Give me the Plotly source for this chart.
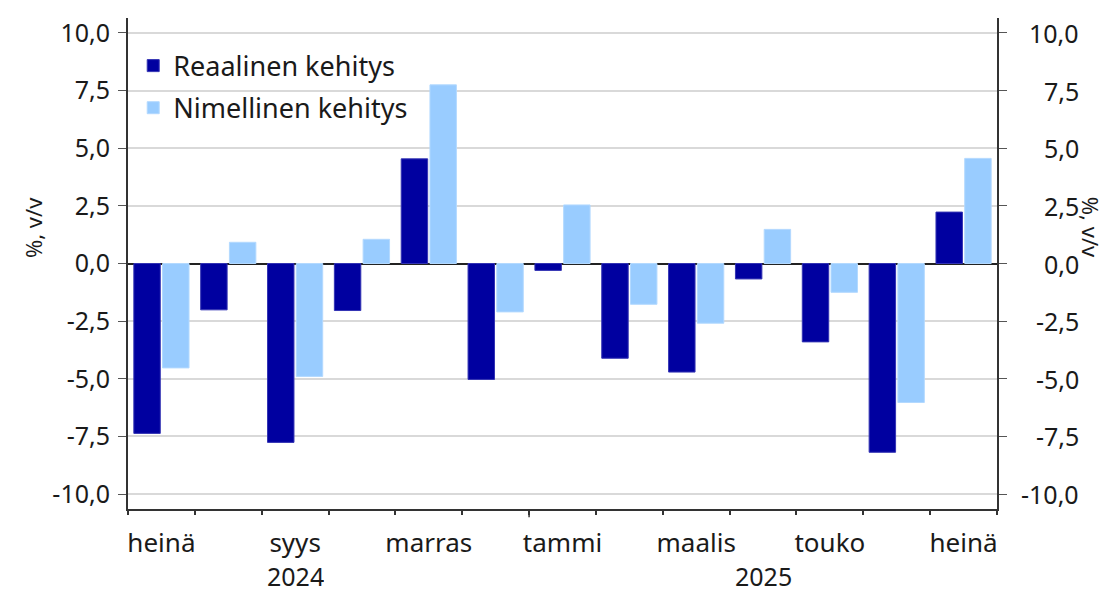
import plotly.graph_objects as go

months = ["heinä", "elo", "syys", "loka", "marras", "joulu", "tammi",
          "helmi", "maalis", "huhti", "touko", "kesä", "heinä"]
month_labels_shown = ["heinä", "", "syys", "", "marras", "", "tammi",
                      "", "maalis", "", "touko", "", "heinä"]
years = ["2024", "2025"]
year_label_index = [2, 9]
year_boundary = 5.5

real = [-7.37, -2.01, -7.76, -2.04, 4.54, -5.03, -0.30,
        -4.11, -4.71, -0.67, -3.40, -8.19, 2.23]
nominal = [-4.53, 0.92, -4.90, 1.05, 7.75, -2.10, 2.54,
           -1.77, -2.59, 1.48, -1.25, -6.03, 4.56]

series_names = ["Reaalinen kehitys", "Nimellinen kehitys"]
colors = ["#0000A0", "#99CCFF"]
outline = ["#3333B3", "#B3D9FF"]

y_ticks = [-10, -7.5, -5, -2.5, 0, 2.5, 5, 7.5, 10]
y_ticktext = [f"{v:.1f}".replace(".", ",") for v in y_ticks]
y_range = [-10.65, 10.65]

FONT = "Noto Sans"
TXT = "#1a1a1a"
x = list(range(len(months)))

fig = go.Figure()
for i, (name, vals) in enumerate(zip(series_names, [real, nominal])):
    fig.add_trace(go.Bar(
        x=x, y=vals, name=name, legendgroup=name,
        marker=dict(color=colors[i], line=dict(color=outline[i], width=1)),
        hoverinfo="skip",
    ))
fig.add_trace(go.Scatter(x=[0], y=[0], yaxis="y2", mode="markers",
                         marker=dict(opacity=0), showlegend=False, hoverinfo="skip"))

boundaries = [i - 0.5 for i in range(len(months) + 1)]

fig.update_layout(
    width=1102, height=585,
    margin=dict(l=120, r=113, t=7, b=84),
    paper_bgcolor="white", plot_bgcolor="white",
    font=dict(family=FONT, size=25, color=TXT),
    barmode="group", bargap=0.14, bargroupgap=0.08,
    showlegend=True,
    legend=dict(x=0.006, y=0.952, xanchor="left", yanchor="top",
                bgcolor="rgba(0,0,0,0)", font=dict(size=27),
                traceorder="grouped", tracegroupgap=4,
                itemwidth=30),
    xaxis=dict(
        range=[-0.5, len(months) - 0.5],
        tickvals=x, ticktext=month_labels_shown, ticks="",
        ticklabelstandoff=10,
        showgrid=False, zeroline=False,
        showline=True, linecolor="#333333", linewidth=2,
        tickfont=dict(size=26),
        minor=dict(tickvals=boundaries, ticks="outside", ticklen=4,
                   tickcolor="#333333", tickwidth=1.5, showgrid=False),
    ),
    yaxis=dict(
        range=y_range, tickvals=y_ticks, ticktext=y_ticktext,
        ticks="outside", ticklen=8, tickcolor="#555555",
        ticklabelstandoff=3,
        showgrid=True, gridcolor="#d9d9d9", gridwidth=1.5,
        zeroline=True, zerolinecolor="#222222", zerolinewidth=2,
        showline=True, linecolor="#333333", linewidth=2,
        tickfont=dict(size=25),
    ),
    yaxis2=dict(
        range=y_range, tickvals=y_ticks, showticklabels=False,
        overlaying="y", side="right",
        ticks="outside", ticklen=8, tickcolor="#555555",
        showgrid=False, zeroline=False,
        showline=True, linecolor="#333333", linewidth=2,
    ),
)

# right-aligned tick labels for the right axis
for v, t in zip(y_ticks, y_ticktext):
    fig.add_annotation(x=1.0965, y=v, xref="paper", yref="y2", text=t,
                       showarrow=False, xanchor="right", yanchor="middle",
                       font=dict(size=25))

# taller tick at year boundary
fig.add_shape(type="line", xref="x", yref="paper",
              x0=year_boundary, x1=year_boundary, y0=0, y1=-0.017,
              line=dict(color="#333333", width=1.5))

# year labels
for yl, idx in zip(years, year_label_index):
    fig.add_annotation(x=idx, y=-0.136, xref="x", yref="paper",
                       text=yl, showarrow=False, yanchor="middle",
                       height=28, font=dict(size=25))

# axis titles
fig.add_annotation(x=-0.110, y=0.573, xref="paper", yref="paper", text="%, v/v",
                   showarrow=False, textangle=-90, xanchor="center",
                   yanchor="middle", font=dict(size=22))
fig.add_annotation(x=1.108, y=0.573, xref="paper", yref="paper", text="%, v/v",
                   showarrow=False, textangle=90, xanchor="center",
                   yanchor="middle", font=dict(size=22))

fig.write_html("out.html")
